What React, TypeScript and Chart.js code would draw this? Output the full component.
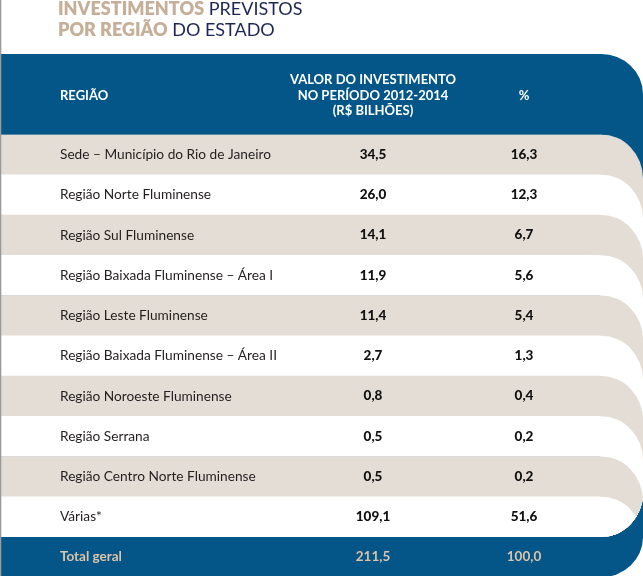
import React, { useEffect, useRef } from "react";
import { Chart, registerables } from "chart.js";

Chart.register(...registerables);

// ---------- data ----------
const REGIONS = [
  "Sede – Município do Rio de Janeiro",
  "Região Norte Fluminense",
  "Região Sul Fluminense",
  "Região Baixada Fluminense – Área I",
  "Região Leste Fluminense",
  "Região Baixada Fluminense – Área II",
  "Região Noroeste Fluminense",
  "Região Serrana",
  "Região Centro Norte Fluminense",
  "Várias*",
];
const INVESTMENT = [34.5, 26.0, 14.1, 11.9, 11.4, 2.7, 0.8, 0.5, 0.5, 109.1];
const PERCENT = [16.3, 12.3, 6.7, 5.6, 5.4, 1.3, 0.4, 0.2, 0.2, 51.6];
const TOTAL_LABEL = "Total geral";
const TOTAL_INVESTMENT = 211.5;
const TOTAL_PERCENT = 100.0;
const HEADER_REGION = "REGIÃO";
const HEADER_VALUE = ["VALOR DO INVESTIMENTO", "NO PERÍODO 2012-2014", "(R$ BILHÕES)"];
const HEADER_PCT = "%";
const TITLE_1 = ["INVESTIMENTOS", "PREVISTOS"];
const TITLE_2 = ["POR REGIÃO", "DO ESTADO"];

// ---------- style ----------
const BLUE = "#035687";
const BEIGE = "#e4ddd5";
const WHITE = "#ffffff";
const STRIPES = [BEIGE, WHITE];
const TAN = "#c6af99";
const TAN_TOTAL = "#dcc3a9";
const NAVY = "#1d2656";
const FONT = "Lato, 'Open Sans', sans-serif";
const RX = 42;
const RY_HEAD = 40;
const RY_ROW = 44;
const RY_GROUP = 44;
const RY_FOOT = 40;
const COL_VALUE = 373;
const COL_PCT = 524;
const LABEL_X = 60;

const fmt = (v: number) => v.toFixed(1).replace(".", ",");

const tablePlugin = {
  id: "tableDeco",
  beforeDatasetsDraw(chart: any) {
    const { ctx, chartArea } = chart;
    const slot = (chartArea.bottom - chartArea.top) / REGIONS.length;
    const W = chart.width;
    const xc = chartArea.right;
    const rx = W - xc;
    const top = chartArea.top - 2 * slot;
    const bottom = chartArea.bottom + slot;
    ctx.save();
    ctx.fillStyle = BLUE;
    ctx.beginPath();
    ctx.moveTo(0, top);
    ctx.lineTo(xc, top);
    ctx.ellipse(xc, top + RY_HEAD, rx, RY_HEAD, 0, -Math.PI / 2, 0);
    ctx.lineTo(W, bottom - RY_FOOT);
    ctx.ellipse(xc, bottom - RY_FOOT, rx, RY_FOOT, 0, 0, Math.PI / 2);
    ctx.lineTo(0, bottom);
    ctx.closePath();
    ctx.fill();
    ctx.restore();
  },
  afterDatasetsDraw(chart: any) {
    const { ctx, chartArea, scales } = chart;
    const slot = (chartArea.bottom - chartArea.top) / REGIONS.length;
    const W = chart.width;
    const xc = chartArea.right;
    const rx = W - xc;
    ctx.save();
    ctx.beginPath();
    ctx.moveTo(xc - 1, chartArea.top);
    ctx.lineTo(W, chartArea.top);
    ctx.lineTo(W, chartArea.bottom - RY_GROUP);
    ctx.ellipse(xc, chartArea.bottom - RY_GROUP, rx, RY_GROUP, 0, 0, Math.PI / 2);
    ctx.lineTo(xc - 1, chartArea.bottom);
    ctx.closePath();
    ctx.clip();
    REGIONS.forEach((_, i) => {
      const t = scales.y.getPixelForValue(i) - slot / 2;
      ctx.fillStyle = STRIPES[i % 2];
      ctx.beginPath();
      ctx.moveTo(xc - 1, t);
      ctx.lineTo(xc, t);
      ctx.ellipse(xc, t + RY_ROW, rx, RY_ROW, 0, -Math.PI / 2, 0);
      ctx.lineTo(W, chartArea.bottom + 2);
      ctx.lineTo(xc - 1, chartArea.bottom + 2);
      ctx.closePath();
      ctx.fill();
    });
    ctx.restore();
  },
  afterDraw(chart: any) {
    const { ctx, chartArea, scales } = chart;
    const slot = (chartArea.bottom - chartArea.top) / REGIONS.length;
    ctx.save();
    // left gray rule
    ctx.fillStyle = "#9a9a9a";
    ctx.fillRect(0, 0, 1.3, chart.height);

    ctx.textBaseline = "middle";
    // header
    const hc = chartArea.top - slot + 1.3;
    ctx.fillStyle = "#ffffff";
    ctx.font = `bold 13px ${FONT}`;
    ctx.textAlign = "left";
    ctx.fillText(HEADER_REGION, LABEL_X, hc);
    ctx.textAlign = "center";
    HEADER_VALUE.forEach((line, j) => {
      ctx.fillText(line, COL_VALUE, hc + (j - 1) * 15.4);
    });
    ctx.fillText(HEADER_PCT, COL_PCT, hc);

    // values
    ctx.fillStyle = "#111111";
    ctx.font = `900 13.5px ${FONT}`;
    REGIONS.forEach((_, i) => {
      const y = scales.y.getPixelForValue(i);
      ctx.fillText(fmt(INVESTMENT[i]), COL_VALUE, y);
      ctx.fillText(fmt(PERCENT[i]), COL_PCT, y);
    });

    // total
    const ty = chartArea.bottom + slot / 2;
    ctx.fillStyle = TAN_TOTAL;
    ctx.font = `bold 13.5px ${FONT}`;
    ctx.textAlign = "left";
    ctx.fillText(TOTAL_LABEL, LABEL_X, ty);
    ctx.textAlign = "center";
    ctx.fillText(fmt(TOTAL_INVESTMENT), COL_VALUE, ty);
    ctx.fillText(fmt(TOTAL_PERCENT), COL_PCT, ty);
    ctx.restore();
  },
};

export default function App() {
  const canvasRef = useRef<HTMLCanvasElement | null>(null);

  useEffect(() => {
    const canvas = canvasRef.current;
    if (!canvas) return;
    const chart = new Chart(canvas, {
      type: "bar",
      data: {
        labels: REGIONS,
        datasets: [
          {
            data: REGIONS.map(() => [0, 1]) as any,
            backgroundColor: REGIONS.map((_, i) => STRIPES[i % 2]),
            borderWidth: 0,
            borderSkipped: false,
            barPercentage: 1,
            categoryPercentage: 1,
          },
        ],
      },
      options: {
        indexAxis: "y",
        responsive: false,
        animation: false,
        events: [],
        layout: { padding: { top: 134.5, bottom: 39, left: 0, right: RX } },
        plugins: { legend: { display: false }, tooltip: { enabled: false }, title: { display: false } },
        scales: {
          x: { type: "linear", min: 0, max: 1, display: false },
          y: {
            type: "category",
            grid: { display: false, drawTicks: false },
            border: { display: false },
            ticks: {
              mirror: true,
              padding: LABEL_X,
              z: 1,
              color: "#231f20",
              font: { family: FONT, size: 13.7, weight: "normal" },
              autoSkip: false,
            },
            afterFit: (scale: any) => {
              scale.width = 0;
              scale.paddingTop = 0;
              scale.paddingBottom = 0;
            },
          },
        },
      },
      plugins: [tablePlugin],
    });
    return () => chart.destroy();
  }, []);

  const titleStyle: React.CSSProperties = {
    position: "absolute",
    left: 58,
    fontFamily: FONT,
    fontSize: 18,
    lineHeight: "21px",
    whiteSpace: "nowrap",
    letterSpacing: 0,
  };

  return (
    <div style={{ position: "absolute", left: 0, top: 0, width: 643, height: 576, overflow: "hidden", background: "#fff" }}>
      <canvas ref={canvasRef} width={643} height={576} style={{ display: "block", position: "absolute", left: 0, top: 0 }} />
      <div style={{ ...titleStyle, top: -2.5 }}>
        <span style={{ fontWeight: 800, color: TAN }}>{TITLE_1[0]}</span>{" "}
        <span style={{ color: NAVY }}>{TITLE_1[1]}</span>
      </div>
      <div style={{ ...titleStyle, top: 18.5 }}>
        <span style={{ fontWeight: 800, color: TAN }}>{TITLE_2[0]}</span>{" "}
        <span style={{ color: NAVY }}>{TITLE_2[1]}</span>
      </div>
    </div>
  );
}
